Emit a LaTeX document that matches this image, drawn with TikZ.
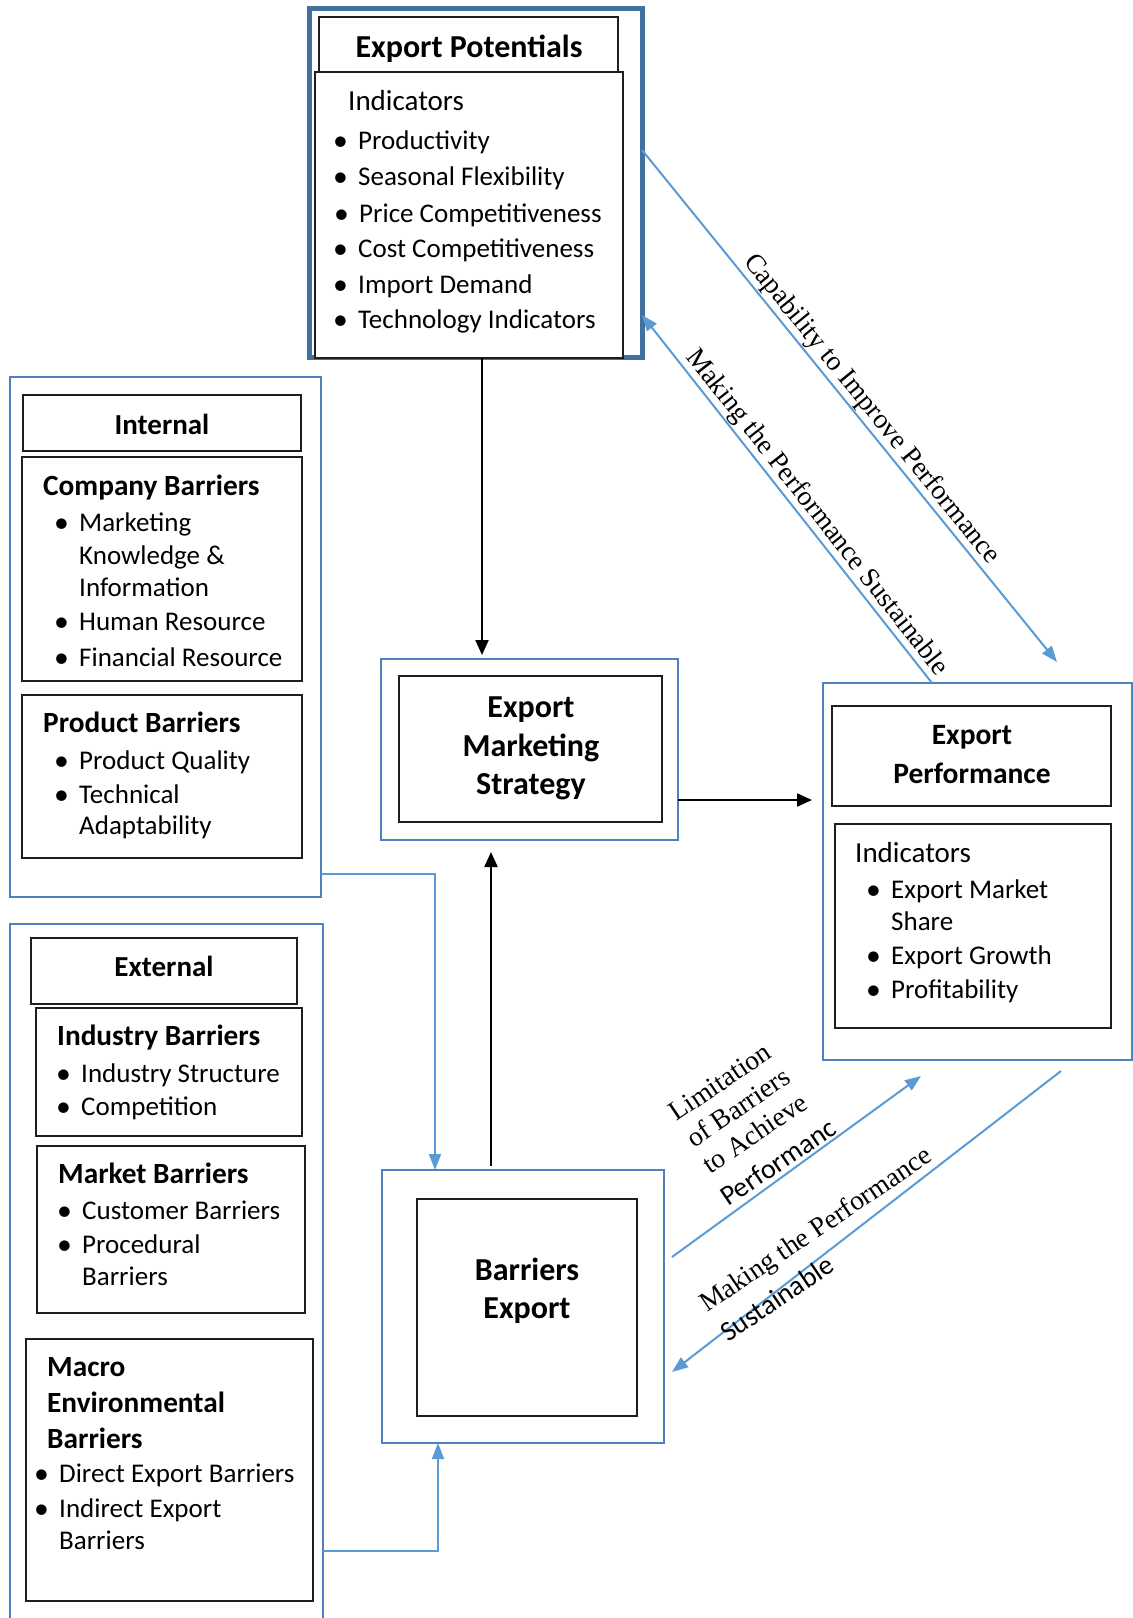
\documentclass[tikz,border=0pt]{standalone}
\usepackage{fontspec}
\setmainfont{Carlito}
\newfontfamily\tms{Liberation Serif}
\usetikzlibrary{arrows.meta,calc}
\definecolor{frameblue}{RGB}{65,113,156}
\definecolor{boxblue}{RGB}{79,129,189}
\definecolor{lineblue}{RGB}{91,155,213}
\definecolor{boxblack}{RGB}{30,30,30}
\tikzset{
 blk/.style={draw=boxblack, line width=1.4pt, fill=white, inner sep=0pt, outer sep=0pt},
 bbx/.style={draw=boxblue, line width=2pt, inner sep=0pt, outer sep=0pt},
 txt/.style={inner sep=0pt, anchor=base west, font=\fontsize{27}{30}\selectfont},
 ind/.style={inner sep=0pt, anchor=base west, font=\fontsize{29}{32}\selectfont},
 ttl/.style={inner sep=0pt, anchor=base, font=\bfseries\fontsize{29}{33}\selectfont},
 bigttl/.style={ttl, font=\bfseries\fontsize{32}{35}\selectfont},
 hd/.style={inner sep=0pt, anchor=base west, font=\bfseries\fontsize{29.3}{32}\selectfont},
 blkarrow/.style={line width=2.2pt, -{Triangle[length=15pt,width=13pt]}},
 bluearrow/.style={draw=lineblue, line width=2pt, -{Triangle[length=16pt,width=12pt]}},
 tlab/.style={font=\tms\fontsize{27.5}{30}\selectfont, inner sep=1pt},
 clab/.style={font=\fontsize{28}{30}\selectfont, inner sep=0pt},
}
% #1 name, #2 x of the item text, #3 baseline, #4 text
\newcommand\bitem[4]{\node[txt] (#1) at (#2-25,#3) {\makebox[25pt][l]{\raisebox{-1.5pt}{\scalebox{1.1}{•}}}#4};}
\begin{document}
\begin{tikzpicture}[x=1pt,y=-1pt]
\useasboundingbox (0,0) rectangle (1133,1618);
\clip (0,0) rectangle (1133,1618);

% ---------- Export Potentials ----------
\node[draw=frameblue, line width=5pt, inner sep=0pt, outer sep=0pt, minimum width=333pt, minimum height=349pt] (epframe) at (475.5,182.5) {};
\node[blk, minimum width=299pt, minimum height=55pt] (eptitle) at (468.5,44.5) {};
\node[blk, minimum width=308pt, minimum height=286pt] (epind) at (469,215) {};
\node[bigttl] (eptext) at (469,57) {Export Potentials};
\node[ind] (epindt) at (348,110) {Indicators};
\bitem{ep1}{358}{149}{Productivity}
\bitem{ep2}{358}{185}{Seasonal Flexibility}
\bitem{ep3}{359}{222}{Price Competitiveness}
\bitem{ep4}{358}{257}{Cost Competitiveness}
\bitem{ep5}{358}{293}{Import Demand}
\bitem{ep6}{358}{328}{Technology Indicators}

% ---------- Internal ----------
\node[bbx, minimum width=311pt, minimum height=520pt] (intout) at (165.5,637) {};
\node[blk, minimum width=278pt, minimum height=56pt] (inttitle) at (162,423) {};
\node[blk, minimum width=280pt, minimum height=224pt] (comp) at (162,569) {};
\node[blk, minimum width=280pt, minimum height=163pt] (prod) at (162,776.5) {};
\node[ttl] (inttext) at (162,434) {Internal};
\node[hd] (comph) at (43,495) {Company Barriers};
\bitem{c1}{79}{531}{Marketing}
\node[txt] (c1b) at (79,564) {Knowledge \&};
\node[txt] (c1c) at (79,596) {Information};
\bitem{c2}{79}{630}{Human Resource}
\bitem{c3}{79}{666}{Financial Resource}
\node[hd] (prodh) at (43,732) {Product Barriers};
\bitem{p1}{79}{769}{Product Quality}
\bitem{p2}{79}{803}{Technical}
\node[txt] (p2b) at (79,834) {Adaptability};

% ---------- External ----------
\node[bbx, minimum width=313pt, minimum height=716pt] (extout) at (166.5,1282) {};
\node[blk, minimum width=266pt, minimum height=66pt] (exttitle) at (164,971) {};
\node[blk, minimum width=266pt, minimum height=128pt] (indb) at (169,1072) {};
\node[blk, minimum width=268pt, minimum height=167pt] (mktb) at (171,1229.5) {};
\node[blk, minimum width=287pt, minimum height=262pt] (macb) at (169.5,1470) {};
\node[ttl] (exttext) at (164,976) {External};
\node[hd] (indh) at (57,1045) {Industry Barriers};
\bitem{i1}{81}{1082}{Industry Structure}
\bitem{i2}{81}{1115}{Competition}
\node[hd] (mkth) at (58,1183) {Market Barriers};
\bitem{m1}{82}{1219}{Customer Barriers}
\bitem{m2}{82}{1253}{Procedural}
\node[txt] (m2b) at (82,1285) {Barriers};
\node[hd] (mach1) at (47,1376) {Macro};
\node[hd] (mach2) at (47,1412) {Environmental};
\node[hd] (mach3) at (47,1448) {Barriers};
\bitem{x1}{59}{1482}{Direct Export Barriers}
\bitem{x2}{59}{1517}{Indirect Export}
\node[txt] (x2b) at (59,1549) {Barriers};

% ---------- Export Marketing Strategy ----------
\node[bbx, minimum width=297pt, minimum height=181pt] (emsout) at (529.5,749.5) {};
\node[blk, minimum width=263pt, minimum height=146pt] (emsin) at (530.5,749) {};
\node[bigttl] (ems1) at (531,717) {Export};
\node[bigttl] (ems2) at (531,756) {Marketing};
\node[bigttl] (ems3) at (531,794) {Strategy};

% ---------- Export Performance ----------
\node[bbx, minimum width=309pt, minimum height=377pt] (epout) at (977.5,871.5) {};
\node[blk, minimum width=279pt, minimum height=100pt] (epttl) at (971.5,756) {};
\node[blk, minimum width=276pt, minimum height=204pt] (epfind) at (973,926) {};
\node[ttl, font=\bfseries\fontsize{29.5}{33}\selectfont] (epf1) at (972,744) {Export};
\node[ttl, font=\bfseries\fontsize{29.5}{33}\selectfont] (epf2) at (972,783) {Performance};
\node[ind] (epfi) at (855,862) {Indicators};
\bitem{f1}{891}{898}{Export Market}
\node[txt] (f1b) at (891,930) {Share};
\bitem{f2}{891}{964}{Export Growth}
\bitem{f3}{891}{998}{Profitability}

% ---------- Barriers Export ----------
\node[bbx, minimum width=282pt, minimum height=273pt] (beout) at (523,1306.5) {};
\node[blk, minimum width=220pt, minimum height=217pt] (bein) at (527,1307.5) {};
\node[bigttl] (be1) at (527,1280) {Barriers};
\node[bigttl] (be2) at (527,1318) {Export};

% ---------- black connectors ----------
\draw[blkarrow] ([xshift=13pt]epind.south) -- ([xshift=-47.5pt,yshift=4pt]emsout.north);
\draw[blkarrow] ([xshift=-32pt,yshift=4pt]beout.north) -- ([xshift=-38.5pt,yshift=-12pt]emsout.south);
\draw[blkarrow] ([yshift=-50.5pt]emsout.east) -- ([xshift=-11pt,yshift=71.5pt]epout.west);

% ---------- blue connectors ----------
\draw[bluearrow] ([yshift=-237pt]intout.east) -| ([xshift=-88pt]beout.north);
\draw[bluearrow] ([yshift=-269pt]extout.east) -| ([xshift=-85pt]beout.south);
\draw[bluearrow] ([yshift=32.5pt]epframe.east) -- node[tlab, sloped, above, pos=0.525] (lab1) {Capability to Improve Performance} ([xshift=79.5pt,yshift=21pt]epout.north);
\draw[bluearrow] ([xshift=-45.5pt]epout.north) -- node[tlab, sloped, above, pos=0.438] (lab2) {Making the Performance Sustainable} ([yshift=-132.5pt]epframe.east);
\draw[bluearrow] ([xshift=8pt,yshift=49.5pt]beout.east) -- ([xshift=-56.5pt,yshift=-16pt]epout.south);
\draw[bluearrow] ([xshift=83.5pt,yshift=-11pt]epout.south) -- ([xshift=8pt,yshift=-65.5pt]beout.east);

% ---------- lower labels ----------
\node[tlab, inner sep=0pt, rotate=34] (lim1) at (720,1082) {Limitation};
\node[tlab, inner sep=0pt, rotate=34] (lim2) at (738,1107) {of Barriers};
\node[tlab, inner sep=0pt, rotate=34] (lim3) at (755,1133) {to Achieve};
\node[clab, rotate=34] (lim4) at (778,1162) {Performanc};
\node[tlab, inner sep=0pt, rotate=34, anchor=base west] (mk1) at (707,1313) {Making the Performance};
\node[clab, rotate=34, anchor=base west] (mk2) at (728,1343) {Sustainable};
\end{tikzpicture}
\end{document}
